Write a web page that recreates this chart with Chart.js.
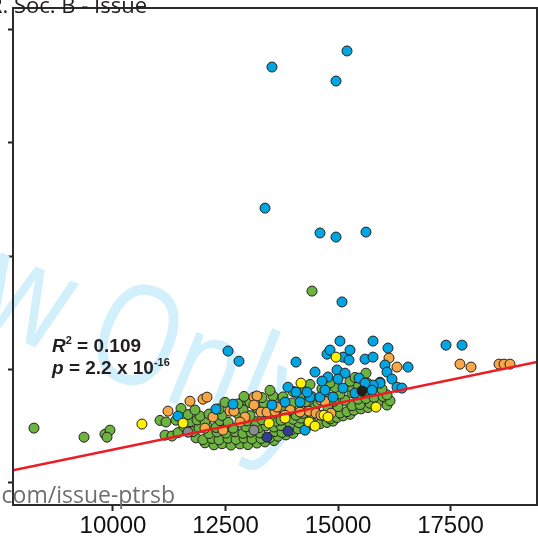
<!DOCTYPE html>
<html>
<head>
<meta charset="utf-8">
<script src="https://cdn.jsdelivr.net/npm/chart.js@4.4.1/dist/chart.umd.min.js"></script>
<style>
  html, body { margin: 0; padding: 0; background: #fff; }
  #wrap { position: relative; width: 538px; height: 539px; overflow: hidden; }
</style>
</head>
<body>
<div id="wrap"><canvas id="myChart" width="538" height="539"></canvas></div>
<script>
// axis setup
const xTickValues = [10000, 12500, 15000, 17500];
const yTickValues = [0, 50, 100, 150, 200];
const xMin = 7778, xMax = 19422;
const yMin = -10.1, yMax = 209.7;

// regression line end points
const regX = [7778, 19422];
const regY = [5.3, 53.1];

// points per group, [x, y]
const bluePoints = [
  [13533, 183.6], [15200, 190.7], [14956, 177.4], [13378, 121.2], [14600, 110.2], [14956, 108.4],
  [15622, 110.6], [15089, 79.7], [12556, 58.0], [12800, 53.5], [14067, 53.1], [15044, 62.4],
  [15778, 62.4], [16111, 59.3], [15267, 58.4], [14756, 56.6], [15111, 55.3], [15244, 54.0],
  [15600, 54.4], [15778, 55.3], [17400, 60.6], [17756, 60.6], [14489, 48.7], [14778, 46.5],
  [14644, 44.7], [14978, 49.6], [15156, 48.2], [15000, 45.6], [15467, 46.0], [16044, 51.8],
  [16556, 50.9], [16089, 48.7], [16200, 45.6], [15933, 43.8], [15778, 42.9], [16311, 42.0],
  [16422, 41.6], [15111, 41.6], [15756, 40.7], [15600, 43.8], [13889, 42.0], [14067, 39.8],
  [13822, 35.4], [13533, 34.1], [14378, 37.6], [14600, 37.6], [14156, 35.4], [14889, 37.6],
  [12667, 34.5], [12289, 32.3], [11444, 29.2], [14267, 23.0], [14822, 58.4], [15378, 39.4],
  [14711, 40.7], [14311, 39.8]
];

const orangePoints = [
  [11222, 31.4], [11711, 35.8], [12000, 36.7], [12089, 37.6], [12222, 28.8], [12600, 31.4],
  [12689, 31.4], [12444, 23.0], [12044, 23.9], [13133, 37.6], [13200, 38.1], [13289, 31.0],
  [13422, 31.0], [13600, 31.4], [13644, 33.2], [12933, 28.8], [12822, 26.6], [13933, 31.9],
  [14356, 31.4], [14622, 36.3], [14711, 35.8], [14511, 30.5], [14622, 29.6], [14844, 30.5],
  [16133, 54.9], [16311, 50.9], [17711, 52.2], [17956, 50.9], [18578, 52.2], [18689, 52.2],
  [18822, 52.2], [13133, 34.1], [13822, 29.6], [14156, 31.0]
];

const greenPoints = [
  [8244, 23.9], [9356, 19.9], [9822, 21.2], [9933, 23.0], [9867, 19.9], [14422, 84.5],
  [14044, 39.8], [15622, 48.2], [15311, 43.8], [15978, 37.6], [16089, 34.1], [15578, 38.5],
  [12911, 36.3], [11156, 20.8], [11311, 20.4],
  [12044, 17.4], [12244, 16.5], [12422, 17.0], [12622, 16.4], [12822, 16.9], [13000, 16.6],
  [13200, 17.3], [13378, 17.8], [13578, 18.4],
  [11844, 19.6], [12000, 18.8], [12200, 19.3], [12356, 18.7], [12556, 19.4], [12733, 18.9],
  [12911, 19.5], [13089, 19.1], [13289, 19.3], [13489, 19.8], [13667, 20.3], [13844, 20.9],
  [14000, 21.6],
  [11444, 21.9], [11778, 22.4], [12133, 21.5], [12311, 22.2], [12511, 21.7], [12711, 22.3],
  [12889, 21.6], [13067, 22.1], [13267, 21.8], [13600, 22.4], [13756, 22.0], [13956, 23.1],
  [14111, 23.6], [14289, 24.4], [14422, 25.3],
  [11578, 24.6], [11911, 24.0], [12089, 24.8], [12289, 24.2], [12533, 24.7], [12667, 23.9],
  [12956, 24.5], [13244, 24.1], [13400, 24.9], [13578, 24.4], [13733, 25.0], [13933, 25.6],
  [14133, 26.3], [14400, 26.9], [14600, 25.8], [14756, 26.4], [14889, 27.0],
  [11044, 27.3], [11178, 26.6], [11400, 27.4], [11711, 26.8], [11867, 27.5], [12044, 26.9],
  [12378, 27.2], [12556, 26.5], [12978, 27.1], [13178, 26.7], [13311, 27.6], [13622, 26.9],
  [13733, 27.4], [14000, 27.8], [14178, 28.3], [14822, 28.0], [14978, 28.6], [15111, 29.3],
  [15267, 30.0],
  [11667, 29.9], [11933, 29.2], [12133, 30.1], [12422, 29.5], [12778, 30.2], [13044, 29.4],
  [13511, 29.8], [13822, 30.3], [14067, 29.6], [14222, 30.4], [14422, 30.0], [15044, 30.6],
  [15200, 31.2], [15356, 31.8], [15511, 32.4], [15667, 33.0],
  [11511, 32.6], [11822, 31.9], [12356, 32.4], [12889, 32.0], [13200, 32.8], [13444, 32.2],
  [13756, 32.9], [14156, 32.5], [14489, 33.1], [14778, 32.6], [15000, 33.4], [15311, 33.8],
  [15489, 34.3], [15711, 34.9], [15889, 35.6], [16156, 36.0],
  [12489, 35.3], [12778, 34.6], [13044, 35.2], [13356, 34.8], [13578, 35.5], [13978, 35.0],
  [14289, 35.6], [14556, 35.1], [14911, 35.8], [15156, 36.2], [15444, 36.7], [15622, 37.0],
  [15800, 37.5], [16000, 37.9], [16089, 38.6],
  [12911, 37.9], [13311, 37.4], [13556, 38.1], [13778, 37.7], [14156, 38.3], [14422, 37.8],
  [14733, 38.4], [15044, 39.0], [15311, 39.5], [15578, 40.1], [15889, 40.6], [15978, 41.2],
  [13489, 40.6], [14000, 40.1], [14267, 40.9], [14644, 41.3], [14933, 41.9], [15267, 42.4],
  [15444, 43.0], [15667, 43.6], [15933, 44.2],
  [14378, 43.2], [14822, 43.9], [15267, 44.6], [15378, 46.3]
];

const yellowPoints = [
  [10644, 25.7], [11556, 26.1], [13467, 26.1], [13822, 28.3], [14178, 43.8], [14956, 55.3],
  [14356, 26.6], [14489, 24.8], [14689, 29.6], [14778, 28.8], [15844, 33.2]
];
const grayPoints = [[11667, 22.1], [13133, 23.0]];
const navyPoints = [[13422, 19.9], [13889, 22.6]];
const blackPoints = [[15533, 40.3]];

const toXY = arr => arr.map(p => ({x: p[0], y: p[1]}));

function pointSet(label, pts, color, order) {
  return {
    label: label,
    data: toXY(pts),
    backgroundColor: color,
    borderColor: '#231f20',
    borderWidth: 1,
    pointRadius: 5,
    pointHoverRadius: 5,
    order: order
  };
}

const textColor = '#231f20';
const sansFont = '"Liberation Sans", Arial, Helvetica, sans-serif';

function drawParts(ctx, x, y, parts) {
  parts.forEach(p => {
    ctx.font = p.font;
    ctx.fillText(p.text, x, y - (p.rise || 0));
    x += ctx.measureText(p.text).width;
  });
}

// watermark behind the points
const watermark = {
  id: 'watermark',
  beforeDatasetsDraw(chart) {
    const ctx = chart.ctx;
    ctx.save();
    ctx.translate(79, 365);
    ctx.rotate(22 * Math.PI / 180);
    ctx.scale(0.8, 1);
    ctx.font = '140px "Open Sans", sans-serif';
    ctx.fillStyle = '#d2effc';
    const pre = 'For Review ';
    ctx.fillText(pre + 'Only', -ctx.measureText(pre).width, 0);
    ctx.restore();
  }
};

// frame, stats text, page header and footer
const extras = {
  id: 'extras',
  afterDraw(chart) {
    const ctx = chart.ctx;
    const a = chart.chartArea;
    ctx.save();
    ctx.strokeStyle = '#2b2b2b';
    ctx.lineWidth = 2;
    ctx.strokeRect(a.left, a.top, a.right - a.left, a.bottom - a.top);

    ctx.fillStyle = textColor;
    ctx.textAlign = 'left';
    ctx.textBaseline = 'alphabetic';
    drawParts(ctx, 52, 352, [
      {text: 'R', font: 'bold italic 19px ' + sansFont},
      {text: '2', font: 'bold 11px ' + sansFont, rise: 8},
      {text: ' = 0.109', font: 'bold 19px ' + sansFont}
    ]);
    drawParts(ctx, 52, 374, [
      {text: 'p', font: 'bold italic 19px ' + sansFont},
      {text: ' = 2.2 x 10', font: 'bold 19px ' + sansFont},
      {text: '-16', font: 'bold 11px ' + sansFont, rise: 8}
    ]);

    ctx.textAlign = 'right';
    ctx.font = '22px "Open Sans", sans-serif';
    ctx.fillStyle = textColor;
    ctx.fillText('Submitted to Phil. Trans. R. Soc. B - Issue', 147, 13);
    ctx.font = '23px "Open Sans", sans-serif';
    ctx.fillStyle = '#6d6e70';
    ctx.fillText('http://mc.manuscriptcentral.com/issue-ptrsb', 175, 503);
    ctx.restore();
  }
};

const data = {
  datasets: [
    {
      type: 'line',
      label: 'fit',
      data: regX.map((x, i) => ({x: x, y: regY[i]})),
      borderColor: '#ed1c24',
      borderWidth: 2.5,
      pointRadius: 0,
      order: -1
    },
    pointSet('black', blackPoints, '#231f20', 0),
    pointSet('navy', navyPoints, '#2e3f92', 1),
    pointSet('gray', grayPoints, '#8a8c8e', 2),
    pointSet('yellow', yellowPoints, '#fff200', 3),
    pointSet('blue', bluePoints, '#00a6e2', 4),
    pointSet('orange', orangePoints, '#f7a746', 5),
    pointSet('green', greenPoints, '#6db33f', 6)
  ]
};

const config = {
  type: 'scatter',
  data: data,
  options: {
    responsive: false,
    animation: false,
    devicePixelRatio: 1,
    layout: { autoPadding: false, padding: { left: 8, top: 8, right: 1, bottom: 0 } },
    plugins: {
      legend: { display: false },
      tooltip: { enabled: false }
    },
    scales: {
      x: {
        type: 'linear',
        min: xMin,
        max: xMax,
        afterBuildTicks: s => { s.ticks = xTickValues.map(v => ({value: v})); },
        afterFit: s => { s.paddingLeft = 0; s.paddingRight = 0; s.height = 34; },
        ticks: {
          color: '#111',
          padding: 2,
          maxRotation: 0,
          autoSkip: false,
          callback: v => String(v),
          font: { family: sansFont, size: 24, lineHeight: 1.1 }
        },
        grid: {
          drawOnChartArea: false,
          drawTicks: true,
          tickLength: 6,
          tickWidth: 2,
          tickColor: '#231f20'
        },
        border: { display: false }
      },
      y: {
        type: 'linear',
        min: yMin,
        max: yMax,
        afterBuildTicks: s => { s.ticks = yTickValues.map(v => ({value: v})); },
        afterFit: s => { s.paddingTop = 0; s.paddingBottom = 0; s.width = 5; },
        ticks: { display: false },
        grid: {
          drawOnChartArea: false,
          drawTicks: true,
          tickLength: 5,
          tickWidth: 2,
          tickColor: '#231f20'
        },
        border: { display: false }
      }
    }
  },
  plugins: [watermark, extras]
};

const myChart = new Chart(document.getElementById('myChart'), config);
</script>
</body>
</html>
